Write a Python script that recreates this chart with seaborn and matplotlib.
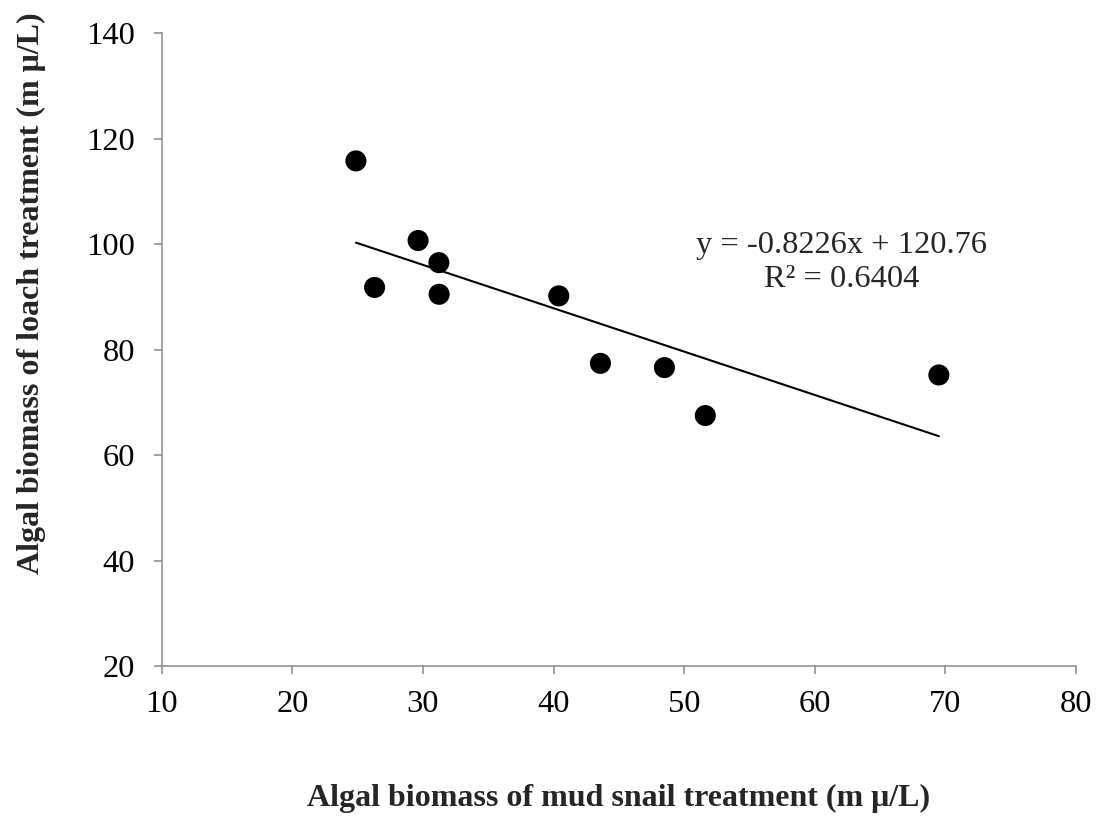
import matplotlib
matplotlib.use("Agg")
import matplotlib.pyplot as plt
import seaborn as sns
import numpy as np
import pandas as pd

# Data
snail_biomass = [24.87, 26.3, 29.63, 31.22, 31.24, 40.4, 43.59, 48.49, 51.62, 69.5]
loach_biomass = [115.8, 91.8, 100.7, 96.5, 90.5, 90.2, 77.4, 76.6, 67.5, 75.2]
slope = -0.8226
intercept = 120.76
r_squared = 0.6404
x_ticks = [10, 20, 30, 40, 50, 60, 70, 80]
y_ticks = [20, 40, 60, 80, 100, 120, 140]

sns.set_theme(style="white")
plt.rcParams['font.family'] = ['Liberation Serif', 'DejaVu Serif']

df = pd.DataFrame({"x": snail_biomass, "y": loach_biomass})
xs = np.array([min(snail_biomass), max(snail_biomass)])
line_df = pd.DataFrame({"x": xs, "y": slope * xs + intercept})

fig = plt.figure(figsize=(11, 8.18), dpi=100)
ax = fig.add_axes([161.7 / 1100, 1 - 666 / 818, (1076 - 161.7) / 1100, (666 - 33.3) / 818])

sns.lineplot(data=line_df, x="x", y="y", ax=ax, color="black", linewidth=1.5)
sns.scatterplot(data=df, x="x", y="y", ax=ax, color="black", s=230, edgecolor="none", zorder=3)

ax.set_xlim(10, 80)
ax.set_ylim(20, 140)
ax.set_xticks(x_ticks)
ax.set_yticks(y_ticks)

fs = 23.4
lfs = 23.0
gray = "#898989"
for side in ["top", "right"]:
    ax.spines[side].set_visible(False)
for side in ["left", "bottom"]:
    ax.spines[side].set_color(gray)
    ax.spines[side].set_linewidth(1.1)
ax.tick_params(axis="both", which="major", direction="out", length=6, width=1.1,
               color=gray, labelcolor="black", labelsize=fs)
ax.tick_params(axis="x", pad=11, bottom=True)
ax.tick_params(axis="y", pad=13, left=True)

ax.set_xlabel("Algal biomass of mud snail treatment (m \u03bc/L)", fontsize=lfs, fontweight="bold")
ax.set_ylabel("Algal biomass of loach treatment (m \u03bc/L)", fontsize=lfs, fontweight="bold")
ax.xaxis.set_label_coords(0.5, -0.1865)
ax.yaxis.set_label_coords(-0.127, 0.5895)

eq = f"y = {slope:.4f}x + {intercept:.2f}\nR\u00b2 = {r_squared:.4f}"
ax.text(0.744, 0.638, eq, transform=ax.transAxes, ha="center", va="center",
        fontsize=fs, linespacing=1.2, multialignment="center")

fig.savefig("out.png", dpi=100)
